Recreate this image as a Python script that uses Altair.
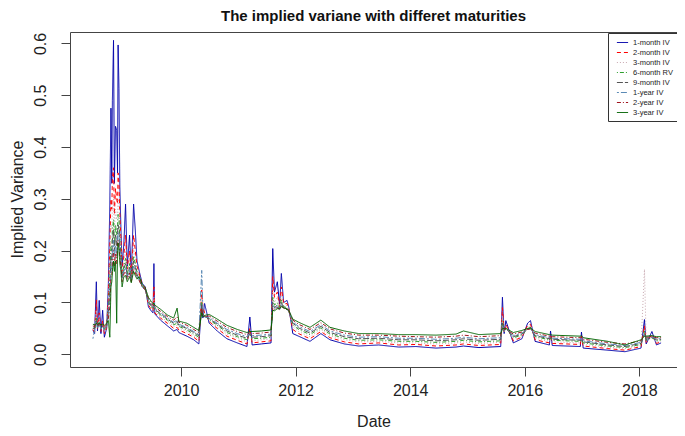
import altair as alt
import pandas as pd

dates = [2008.46, 2008.49, 2008.52, 2008.54, 2008.57, 2008.60, 2008.63, 2008.66, 2008.70, 2008.73,
         2008.755, 2008.775, 2008.79, 2008.80, 2008.82, 2008.835, 2008.855, 2008.875, 2008.89, 2008.90,
         2008.915, 2008.93, 2008.95, 2008.97, 2009.00, 2009.03, 2009.06, 2009.10, 2009.13, 2009.17,
         2009.20, 2009.23, 2009.27, 2009.32, 2009.375, 2009.43, 2009.49, 2009.51, 2009.525, 2009.54,
         2009.64, 2009.76, 2009.87, 2009.93, 2009.96, 2010.10, 2010.22, 2010.31, 2010.36, 2010.38,
         2010.41, 2010.49, 2010.63, 2010.80, 2010.98, 2011.15, 2011.20, 2011.24, 2011.40, 2011.57,
         2011.60, 2011.63, 2011.68, 2011.72, 2011.75, 2011.79, 2011.85, 2011.88, 2011.95, 2012.05,
         2012.25, 2012.44, 2012.60, 2012.85, 2013.10, 2013.45, 2013.80, 2014.10, 2014.45, 2014.80,
         2014.93, 2015.20, 2015.58, 2015.61, 2015.64, 2015.67, 2015.80, 2015.95, 2016.05, 2016.10,
         2016.18, 2016.43, 2016.45, 2016.48, 2016.97, 2016.99, 2017.02, 2017.45, 2017.75, 2018.03,
         2018.09, 2018.12, 2018.22, 2018.30, 2018.38]

iv_1m = [.046, .040, .140, .045, .104, .040, .085, .033, .050, .137,
         .290, .475, .330, .490, .606, .330, .440, .432, .350, .597,
         .513, .323, .240, .170, .213, .290, .170, .230, .150, .290,
         .240, .180, .160, .137, .130, .091, .082, .080, .175, .078,
         .066, .055, .045, .048, .042, .035, .028, .020, .095, .070,
         .098, .060, .045, .030, .022, .015, .072, .018, .020, .022,
         .204, .120, .140, .095, .156, .100, .104, .091, .040, .035,
         .025, .040, .028, .020, .016, .018, .014, .015, .012, .014,
         .016, .013, .015, .110, .040, .065, .022, .030, .060, .065,
         .025, .018, .045, .017, .015, .043, .012, .008, .005, .012,
         .067, .020, .044, .018, .022]

iv_2m = [.048, .043, .105, .050, .080, .044, .065, .040, .052, .110,
         .210, .300, .280, .340, .360, .270, .320, .300, .290, .350,
         .330, .270, .220, .160, .190, .230, .165, .200, .150, .230,
         .200, .170, .155, .135, .128, .095, .085, .084, .130, .080,
         .070, .060, .050, .052, .047, .040, .033, .025, .124, .090,
         .080, .063, .050, .035, .027, .020, .050, .022, .024, .026,
         .150, .110, .120, .092, .130, .097, .098, .088, .048, .040,
         .030, .044, .032, .024, .020, .022, .018, .019, .016, .018,
         .020, .017, .019, .090, .042, .058, .026, .033, .056, .058,
         .028, .022, .038, .021, .019, .035, .016, .011, .008, .015,
         .055, .023, .038, .021, .024]

iv_3m = [.050, .046, .085, .052, .070, .047, .058, .044, .054, .095,
         .170, .250, .240, .280, .300, .240, .280, .260, .270, .300,
         .290, .240, .200, .155, .180, .200, .160, .185, .148, .205,
         .185, .162, .150, .133, .126, .098, .088, .086, .110, .083,
         .073, .063, .054, .056, .051, .044, .036, .029, .110, .082,
         .076, .065, .053, .039, .031, .024, .042, .026, .028, .030,
         .120, .100, .110, .090, .115, .094, .094, .086, .053, .044,
         .034, .048, .036, .028, .024, .025, .022, .022, .020, .022,
         .024, .021, .023, .075, .043, .054, .029, .035, .052, .054,
         .031, .025, .034, .024, .022, .030, .019, .014, .011, .017,
         .164, .025, .034, .024, .026]

rv_6m = [.052, .049, .070, .053, .062, .050, .055, .048, .055, .085,
         .140, .210, .200, .240, .260, .210, .250, .230, .250, .270,
         .260, .220, .190, .150, .170, .185, .155, .175, .145, .190,
         .175, .158, .147, .132, .125, .100, .090, .088, .100, .085,
         .076, .066, .057, .060, .054, .047, .039, .033, .100, .078,
         .074, .067, .056, .042, .034, .028, .040, .030, .031, .033,
         .110, .095, .100, .088, .105, .092, .090, .084, .057, .048,
         .038, .051, .039, .031, .027, .028, .025, .025, .023, .025,
         .027, .024, .026, .065, .044, .051, .032, .037, .050, .052,
         .034, .028, .032, .027, .025, .028, .022, .016, .013, .019,
         .045, .027, .032, .026, .028]

iv_9m = [.050, .050, .065, .052, .060, .050, .054, .050, .055, .080,
         .120, .190, .180, .220, .240, .200, .230, .210, .235, .250,
         .240, .205, .180, .148, .165, .175, .150, .168, .143, .180,
         .168, .154, .145, .131, .124, .102, .092, .090, .095, .087,
         .078, .068, .060, .063, .056, .050, .042, .036, .095, .075,
         .073, .069, .058, .045, .037, .031, .039, .033, .034, .036,
         .100, .090, .095, .087, .100, .090, .088, .083, .060, .051,
         .041, .054, .042, .034, .030, .031, .028, .028, .026, .028,
         .030, .027, .029, .060, .045, .050, .034, .039, .049, .050,
         .036, .030, .032, .029, .027, .028, .024, .018, .015, .021,
         .040, .029, .032, .028, .029]

iv_1y = [.030, .048, .062, .050, .058, .049, .053, .048, .054, .075,
         .110, .170, .160, .200, .220, .185, .210, .190, .225, .235,
         .225, .195, .175, .145, .160, .168, .148, .162, .142, .170,
         .163, .150, .143, .130, .124, .104, .094, .092, .093, .089,
         .080, .070, .062, .066, .058, .052, .044, .038, .162, .085,
         .072, .071, .060, .048, .040, .034, .040, .036, .037, .039,
         .095, .088, .092, .086, .096, .089, .086, .082, .062, .054,
         .044, .057, .045, .037, .033, .034, .031, .031, .029, .031,
         .033, .030, .032, .056, .046, .049, .036, .041, .048, .049,
         .038, .032, .033, .031, .029, .030, .026, .020, .017, .023,
         .038, .031, .033, .030, .030]

iv_2y = [.055, .053, .060, .055, .058, .054, .056, .053, .057, .070,
         .090, .150, .150, .180, .200, .170, .195, .175, .215, .220,
         .210, .185, .170, .140, .155, .160, .145, .157, .140, .165,
         .158, .148, .142, .130, .125, .107, .096, .095, .095, .092,
         .083, .073, .066, .072, .062, .056, .048, .042, .090, .074,
         .073, .074, .064, .052, .044, .038, .042, .040, .041, .043,
         .090, .086, .090, .086, .094, .089, .086, .083, .066, .058,
         .048, .061, .049, .041, .037, .037, .035, .034, .033, .035,
         .037, .034, .036, .052, .048, .049, .039, .043, .048, .049,
         .041, .035, .035, .034, .032, .033, .029, .023, .020, .026,
         .036, .033, .034, .032, .032]

iv_3y = [.058, .057, .060, .058, .060, .057, .058, .056, .060, .065,
         .033, .130, .140, .160, .180, .160, .180, .060, .200, .215,
         .200, .175, .160, .130, .150, .152, .140, .150, .138, .160,
         .152, .145, .150, .135, .128, .110, .100, .098, .098, .095,
         .087, .076, .070, .089, .064, .060, .052, .046, .080, .072,
         .075, .077, .068, .056, .048, .042, .044, .044, .045, .047,
         .085, .084, .088, .088, .092, .090, .087, .085, .068, .062,
         .052, .066, .052, .045, .040, .040, .038, .038, .037, .039,
         .045, .038, .040, .050, .050, .050, .042, .046, .050, .051,
         .044, .038, .038, .037, .035, .036, .032, .025, .018, .028,
         .035, .035, .036, .034, .034]

series_names = ["1-month IV", "2-month IV", "3-month IV", "6-month RV",
                "9-month IV", "1-year IV", "2-year IV", "3-year IV"]
series_values = [iv_1m, iv_2m, iv_3m, rv_6m, iv_9m, iv_1y, iv_2y, iv_3y]
series_colors = ["#0000AA", "#FF0000", "#C8A8B0", "#2EA02E",
                 "#555555", "#5A8AB5", "#A0141E", "#006400"]
series_dashes = [[1, 0], [4, 3], [1, 2], [1, 2, 4, 2],
                 [6, 2], [2, 2, 6, 2], [4, 2, 1, 2], [1, 0]]

x_ticks = [2010, 2012, 2014, 2016, 2018]
y_ticks = [0.0, 0.1, 0.2, 0.3, 0.4, 0.5, 0.6]

rows = []
for name, vals in zip(series_names, series_values):
    for d, v in zip(dates, vals):
        rows.append({"date": d, "value": v, "series": name})
df = pd.DataFrame(rows)

FONT = "Liberation Sans"

legend = alt.Legend(
    title=None, orient="none", legendX=538, legendY=1, direction="vertical",
    fillColor="white", strokeColor="#333333", padding=5, cornerRadius=0,
    symbolType="M-1.4,0H1.4", symbolSize=64, symbolStrokeWidth=1, symbolOffset=5,
    labelFontSize=7.5, labelFont=FONT, labelColor="#222222", labelOffset=6,
    rowPadding=2,
)

base = alt.Chart(df).mark_line(strokeWidth=1, clip=True).encode(
    x=alt.X("date:Q",
            scale=alt.Scale(domain=[2008.06, 2018.658], nice=False, zero=False),
            axis=alt.Axis(values=x_ticks, format="d", title="Date",
                          labelPadding=6, titleY=54, titleBaseline="middle")),
    y=alt.Y("value:Q",
            scale=alt.Scale(domain=[-0.0245, 0.622], nice=False, zero=False),
            axis=alt.Axis(values=y_ticks, format=".1f", title="Implied Variance",
                          labelAngle=270, labelAlign="center", labelBaseline="bottom",
                          labelPadding=13, titleAngle=270, titleX=-61, titleY=167,
                          titleBaseline="top", titleAlign="center")),
    color=alt.Color("series:N", scale=alt.Scale(domain=series_names, range=series_colors),
                    legend=legend),
    strokeDash=alt.StrokeDash("series:N", scale=alt.Scale(domain=series_names, range=series_dashes),
                              legend=legend),
)

layers = [base.transform_filter(alt.datum.series == n) for n in series_names]

chart = alt.layer(*layers).properties(
    width=607, height=335,
    autosize=alt.AutoSizeParams(type="none"),
    padding={"left": 62, "top": 24, "right": 0, "bottom": 61},
    title=alt.TitleParams("The implied variane with differet maturities", font=FONT,
                          fontSize=15, fontWeight="bold", color="#111111",
                          anchor="middle", offset=8),
    background="white",
).configure_view(
    stroke="#444444", strokeWidth=1
).configure_axis(
    labelFont=FONT, titleFont=FONT, labelFontSize=16, titleFontSize=16,
    titleFontWeight="normal", labelColor="#222222", titleColor="#222222",
    domain=False, grid=False, tickColor="#444444", tickSize=9,
)

chart.save("out.html", embed_options={"renderer": "svg", "actions": False})
